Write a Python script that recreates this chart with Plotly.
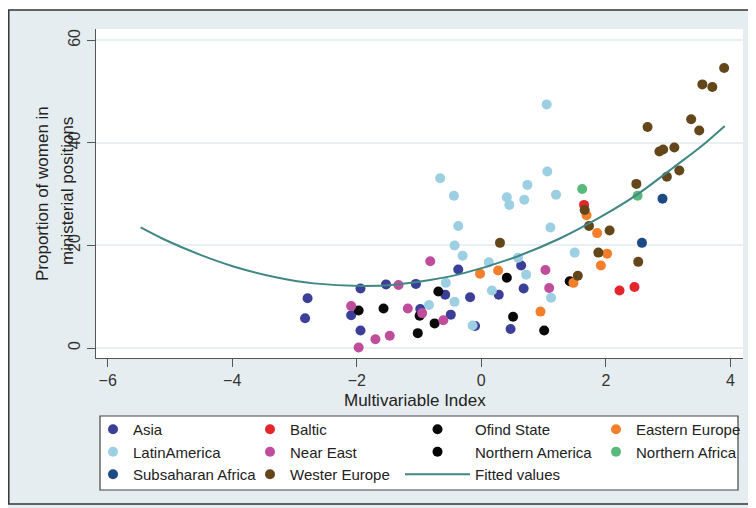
import plotly.graph_objects as go

# ---------------- data ----------------
asia_x = [-2.79, -2.83, -1.94, -1.53, -1.05, -0.37, -0.58, -0.18, 0.28, 0.64, 0.68, -2.09, -0.98, -0.49, -1.94, -0.10, 0.47]
asia_y = [9.7, 5.8, 11.6, 12.4, 12.5, 15.3, 10.4, 9.9, 10.4, 16.1, 11.6, 6.4, 7.6, 6.5, 3.4, 4.3, 3.7]

baltic_x = [1.65, 2.22, 2.46]
baltic_y = [27.9, 11.2, 11.9]

ofind_x = [-1.97, -1.57, -0.69, -0.99, -1.02, -0.75, 0.51, 1.01, 1.42]
ofind_y = [7.3, 7.7, 11.0, 6.3, 2.9, 4.8, 6.1, 3.4, 13.0]

easteu_x = [-0.02, 0.27, 0.95, 1.48, 1.69, 1.86, 2.02, 1.92]
easteu_y = [14.5, 15.1, 7.1, 12.7, 25.9, 22.4, 18.4, 16.1]

latam_x = [1.05, -0.66, -0.44, 1.06, 0.74, 0.41, 0.45, 0.69, 1.20, -0.37, 1.11, -0.43, -0.30, 0.12,
           0.59, 0.72, 1.50, -0.57, -0.43, -0.84, 0.17, 1.12, -0.14]
latam_y = [47.5, 33.1, 29.7, 34.4, 31.8, 29.4, 27.9, 28.9, 29.9, 23.8, 23.5, 20.0, 18.0, 16.7,
           17.6, 14.3, 18.6, 12.7, 9.0, 8.4, 11.2, 9.8, 4.4]

neareast_x = [-0.82, -1.33, -2.09, -1.18, -0.95, -0.61, -1.70, -1.47, -1.97, 1.03, 1.09]
neareast_y = [16.9, 12.3, 8.2, 7.7, 6.8, 5.4, 1.7, 2.4, 0.1, 15.2, 11.7]

northam_x = [0.41]
northam_y = [13.7]

northafr_x = [1.62, 2.51]
northafr_y = [31.0, 29.7]

subsah_x = [2.91, 2.58]
subsah_y = [29.1, 20.5]

westeu_x = [3.90, 3.55, 3.71, 2.67, 3.37, 3.50, 2.86, 2.92, 3.10, 2.98, 3.18, 2.49, 1.66, 1.73, 2.06,
            1.88, 2.52, 1.55, 0.30]
westeu_y = [54.6, 51.4, 50.9, 43.1, 44.6, 42.4, 38.3, 38.7, 39.1, 33.4, 34.6, 32.0, 26.9, 23.8, 22.9,
            18.6, 16.8, 14.1, 20.5]

fit_x = [-5.47, -5.10, -4.50, -3.98, -3.30, -2.69, -1.94, -1.35, -0.80, -0.28, 0.52, 1.27, 1.91, 2.50, 3.14, 3.55, 3.91]
fit_y = [23.5, 21.2, 18.1, 15.9, 13.8, 12.6, 12.1, 12.4, 13.3, 14.6, 17.6, 21.4, 25.5, 29.9, 35.7, 39.5, 43.3]

x_ticks = [-6, -4, -2, 0, 2, 4]
y_ticks = [0, 20, 40, 60]

# ---------------- figure ----------------
FONT = "Liberation Sans, Arial, sans-serif"
OFF = 8                      # page body margin of the browser
W, H = 756 - OFF, 508 - OFF
# plot area in screen pixels: x 96..743, y 29..358
L, T = 96 - OFF, 29 - OFF
R = W - (743 - OFF)
B = H - (358 - OFF)
PW, PH = W - L - R, H - T - B


def px(xs):
    """screen x pixel -> paper fraction"""
    return (xs - OFF - L) / PW


def py(ys):
    """screen y pixel -> paper fraction"""
    return (H - B - (ys - OFF)) / PH


series = [
    ("Asia", asia_x, asia_y, "#3b3f98", "legend"),
    ("Baltic", baltic_x, baltic_y, "#e3262b", "legend2"),
    ("Ofind State", ofind_x, ofind_y, "#0a0a0a", "legend3"),
    ("Eastern Europe", easteu_x, easteu_y, "#f37f2b", "legend4"),
    ("LatinAmerica", latam_x, latam_y, "#9ccfe2", "legend"),
    ("Near East", neareast_x, neareast_y, "#c04d9c", "legend2"),
    ("Northern America", northam_x, northam_y, "#000000", "legend3"),
    ("Northern Africa", northafr_x, northafr_y, "#59b97c", "legend4"),
    ("Subsaharan Africa", subsah_x, subsah_y, "#1d4a85", "legend"),
    ("Wester Europe", westeu_x, westeu_y, "#63471a", "legend2"),
]

fig = go.Figure()
for name, xs, ys, col, lg in series:
    fig.add_trace(go.Scatter(x=xs, y=ys, mode="markers", name=name, legend=lg,
                             marker=dict(color=col, size=10, line=dict(width=0))))

fig.add_trace(go.Scatter(x=fit_x, y=fit_y, mode="lines", name="Fitted values", legend="legend3",
                         line=dict(color="#3f8785", width=2, shape="spline", smoothing=0.8)))

axis_common = dict(showline=True, linecolor="#555555", linewidth=1.2, ticks="outside", ticklen=8,
                   tickcolor="#555555", tickwidth=1.2, zeroline=False, automargin=False,
                   tickfont=dict(family=FONT, size=16, color="#333333"))

fig.update_xaxes(range=[(96 - 481.3) / 62.27, (743 - 481.3) / 62.27], tickvals=x_ticks,
                 showgrid=False, ticklabelstandoff=0, **axis_common)
fig.update_yaxes(range=[-1.95, 62.2], tickvals=y_ticks, tickangle=-90, showgrid=True,
                 gridcolor="#e9f0f2", gridwidth=2, ticklabelstandoff=1, **axis_common)

leg_common = dict(bgcolor="rgba(0,0,0,0)", borderwidth=0, orientation="v",
                  xref="container", yref="container", xanchor="left", yanchor="top",
                  font=dict(family=FONT, size=15, color="#222222"), itemclick=False, tracegroupgap=0)


def lx(xs):
    return (xs - OFF) / W


top = 1 - (413 - OFF) / H
fig.update_layout(
    width=W, height=H,
    margin=dict(l=L, r=R, t=T, b=B, autoexpand=False),
    paper_bgcolor="#e6edf0", plot_bgcolor="white",
    showlegend=True,
    legend=dict(x=lx(93), y=top, **leg_common),
    legend2=dict(x=lx(250), y=top, **leg_common),
    legend3=dict(x=lx(400), y=top, itemwidth=65, **leg_common),
    legend4=dict(x=lx(596), y=top, **leg_common),
    shapes=[
        dict(type="rect", xref="paper", yref="paper", x0=px(0), x1=px(770), y0=py(10), y1=py(-5),
             fillcolor="white", line=dict(width=0), layer="below"),
        dict(type="rect", xref="paper", yref="paper", x0=px(8.8), x1=px(770), y0=py(504), y1=py(10),
             fillcolor="rgba(0,0,0,0)", line=dict(color="#333333", width=1.5), layer="below"),
        dict(type="rect", xref="paper", yref="paper", x0=px(100), x1=px(738), y0=py(490), y1=py(416),
             fillcolor="white", line=dict(color="#444444", width=1.2)),
    ],
    annotations=[
        dict(text="Multivariable Index", xref="paper", yref="paper", x=px(415), y=py(400),
             xanchor="center", yanchor="middle", showarrow=False,
             font=dict(family=FONT, size=17, color="#222222")),
        dict(text="Proportion of women in", xref="paper", yref="paper", x=px(42), y=py(193),
             xanchor="center", yanchor="middle", showarrow=False, textangle=-90,
             font=dict(family=FONT, size=17, color="#222222")),
        dict(text="ministerial positions", xref="paper", yref="paper", x=px(67), y=py(191),
             xanchor="center", yanchor="middle", showarrow=False, textangle=-90,
             font=dict(family=FONT, size=17, color="#222222")),
    ],
)

fig.write_html("out.html")
